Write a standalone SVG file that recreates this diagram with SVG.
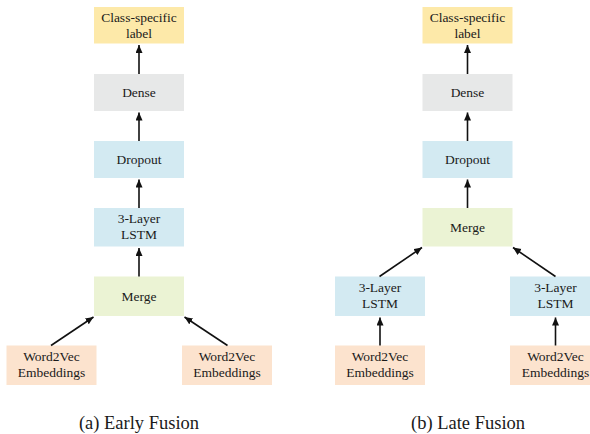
<svg xmlns="http://www.w3.org/2000/svg" width="590" height="434" viewBox="0 0 590 434">
  <style>
    text { font-family: 'Liberation Serif', 'Times New Roman', 'DejaVu Serif', serif; fill: #1a1a1a; text-anchor: middle; }
    .box text { font-size: 13.5px; }
    .cap { font-size: 18.5px; }
    .label rect { fill: #FDE9A9; }
    .dense rect { fill: #E7E8E8; }
    .blue rect { fill: #D3EAF2; }
    .merge rect { fill: #EBF3D4; }
    .embed rect { fill: #FCE3CE; }
    .edges line { stroke: #111; stroke-width: 1.6; marker-end: url(#arrow); }
  </style>
  <defs>
    <marker id="arrow" markerUnits="userSpaceOnUse" markerWidth="9" markerHeight="8" refX="8" refY="3.5" orient="auto">
      <path d="M0,0 L8,3.5 L0,7 z" fill="#111"/>
    </marker>
  </defs>
  <rect width="590" height="434" fill="#fff"/>

  <g font-family="Liberation Serif, serif">
  <!-- (a) Early Fusion -->
  <g id="a-label" class="box label"><rect x="94" y="7" width="90" height="36.5"/><text x="139" y="21.5">Class-specific</text><text x="139" y="37.5">label</text></g>
  <g id="a-dense" class="box dense"><rect x="94" y="74" width="90" height="37"/><text x="139" y="97">Dense</text></g>
  <g id="a-dropout" class="box blue"><rect x="94" y="141" width="90" height="37"/><text x="139" y="164">Dropout</text></g>
  <g id="a-lstm" class="box blue"><rect x="94" y="208" width="90" height="38.5"/><text x="139" y="223">3-Layer</text><text x="139" y="239">LSTM</text></g>
  <g id="a-merge" class="box merge"><rect x="94" y="276.5" width="90" height="39.5"/><text x="139" y="301">Merge</text></g>
  <g id="a-embed-1" class="box embed"><rect x="6.5" y="345.5" width="90" height="39.5"/><text x="51.5" y="361">Word2Vec</text><text x="51.5" y="377">Embeddings</text></g>
  <g id="a-embed-2" class="box embed"><rect x="182" y="345.5" width="90" height="39.5"/><text x="227" y="361">Word2Vec</text><text x="227" y="377">Embeddings</text></g>
  <text class="cap" x="139" y="429">(a) Early Fusion</text>

  <!-- (b) Late Fusion -->
  <g id="b-label" class="box label"><rect x="422.5" y="7" width="90" height="36.5"/><text x="467.5" y="21.5">Class-specific</text><text x="467.5" y="37.5">label</text></g>
  <g id="b-dense" class="box dense"><rect x="422.5" y="74" width="90" height="37"/><text x="467.5" y="97">Dense</text></g>
  <g id="b-dropout" class="box blue"><rect x="422.5" y="141" width="90" height="37"/><text x="467.5" y="164">Dropout</text></g>
  <g id="b-merge" class="box merge"><rect x="422.5" y="208" width="90" height="38.5"/><text x="467.5" y="232">Merge</text></g>
  <g id="b-lstm-1" class="box blue"><rect x="335" y="276.5" width="90" height="39.5"/><text x="380" y="292">3-Layer</text><text x="380" y="308">LSTM</text></g>
  <g id="b-lstm-2" class="box blue"><rect x="510" y="276.5" width="90" height="39.5"/><text x="555.5" y="292">3-Layer</text><text x="555.5" y="308">LSTM</text></g>
  <g id="b-embed-1" class="box embed"><rect x="335" y="345.5" width="90" height="39.5"/><text x="380" y="361">Word2Vec</text><text x="380" y="377">Embeddings</text></g>
  <g id="b-embed-2" class="box embed"><rect x="510" y="345.5" width="90" height="39.5"/><text x="555.5" y="361">Word2Vec</text><text x="555.5" y="377">Embeddings</text></g>
  <text class="cap" x="468" y="429">(b) Late Fusion</text>
  </g>

  <g id="connectors" class="edges">
    <line x1="139" y1="74" x2="139" y2="45"/>
    <line x1="139" y1="141" x2="139" y2="112.5"/>
    <line x1="139" y1="208" x2="139" y2="179.5"/>
    <line x1="139" y1="276.5" x2="139" y2="248"/>
    <line x1="51" y1="345.5" x2="93.5" y2="317"/>
    <line x1="227.5" y1="345.5" x2="184.5" y2="317"/>

    <line x1="467.5" y1="74" x2="467.5" y2="45"/>
    <line x1="467.5" y1="141" x2="467.5" y2="112.5"/>
    <line x1="467.5" y1="208" x2="467.5" y2="179.5"/>
    <line x1="379.5" y1="276.5" x2="422" y2="247.5"/>
    <line x1="555.5" y1="276.5" x2="513" y2="247.5"/>
    <line x1="380" y1="345.5" x2="380" y2="317.5"/>
    <line x1="555.5" y1="345.5" x2="555.5" y2="317.5"/>
  </g>
</svg>
